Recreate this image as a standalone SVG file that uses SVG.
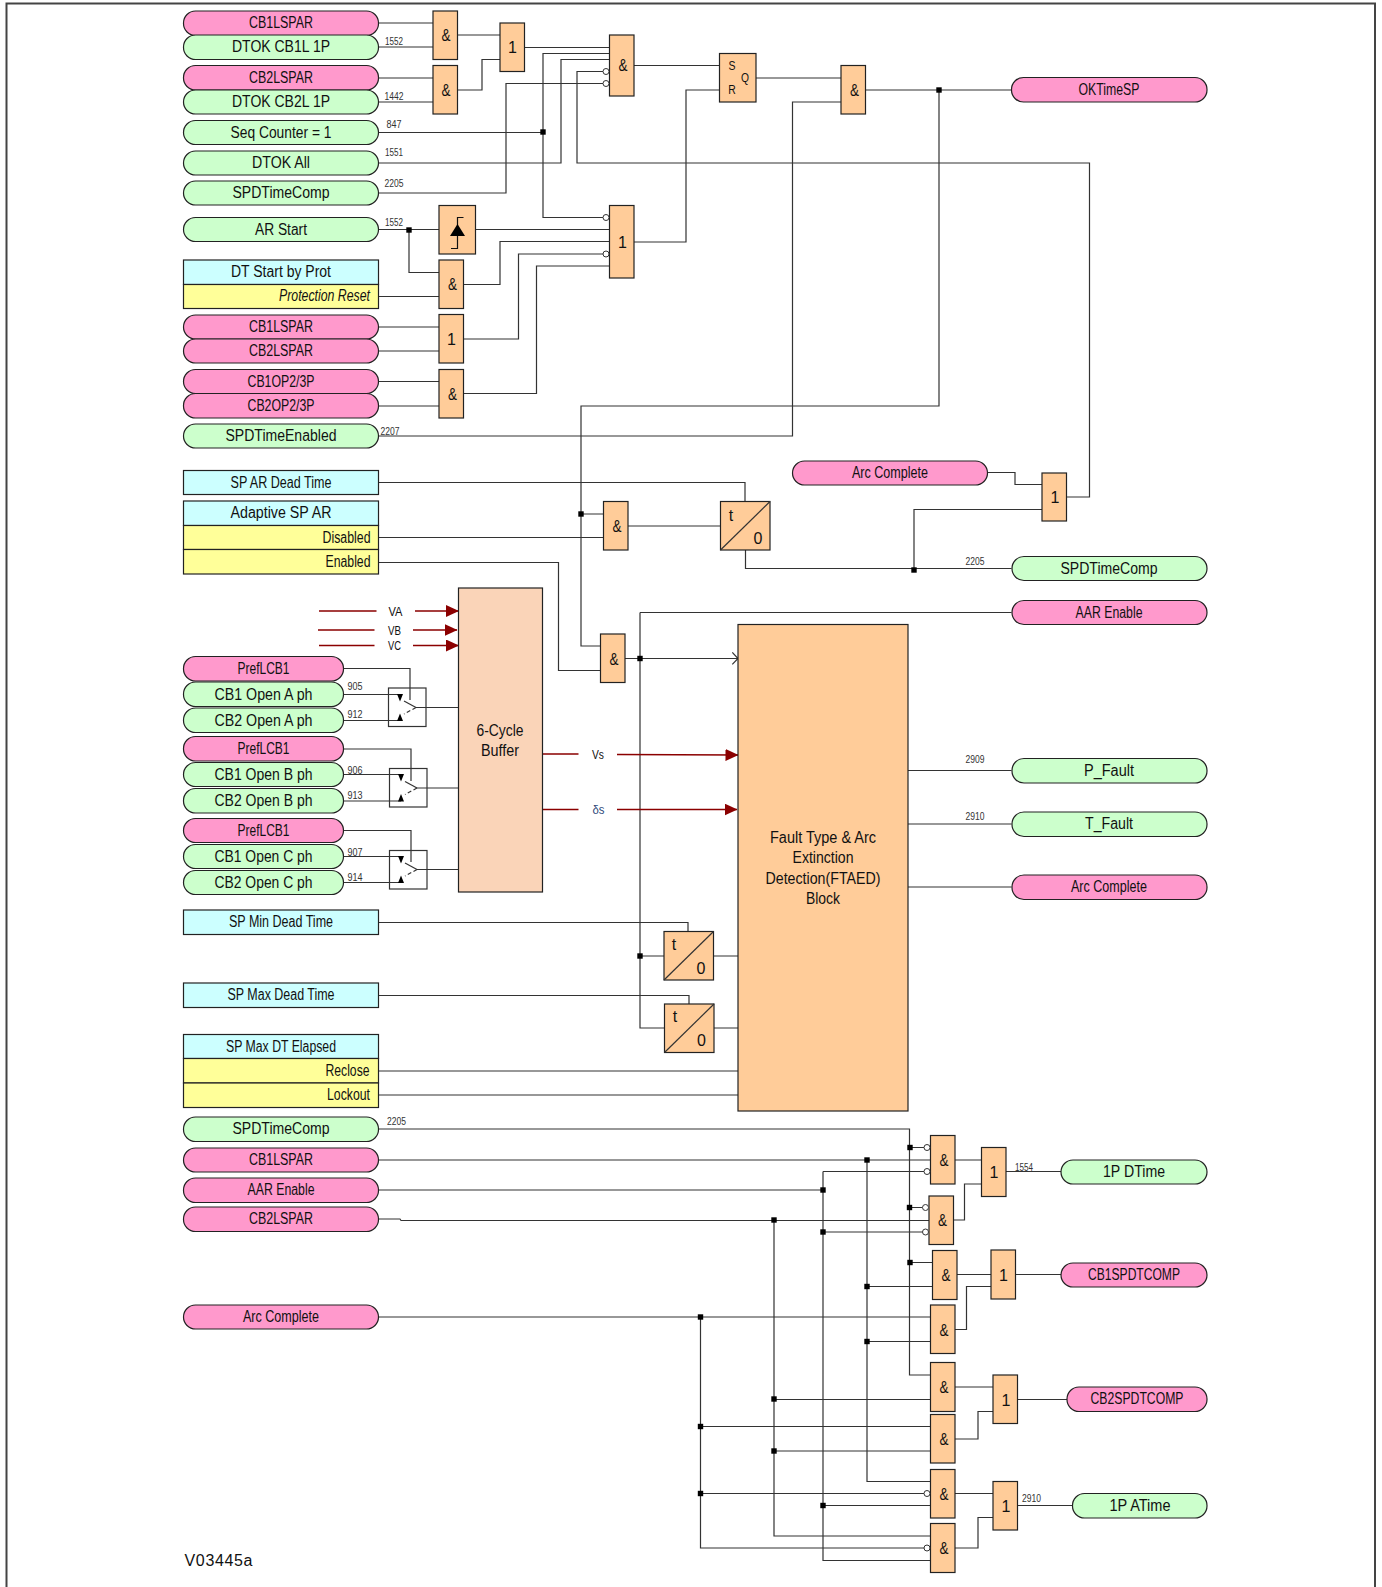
<svg xmlns="http://www.w3.org/2000/svg" width="1382" height="1587" viewBox="0 0 1382 1587">
<style>
text{font-family:"Liberation Sans",Arial,sans-serif;fill:#111;font-size:16px;text-anchor:middle}
.pk,.gr,.cy,.ye,.or,.bf{stroke:#222;stroke-width:1.2}
.pk{fill:#ff99cc}.gr{fill:#ccffcc}.cy{fill:#ccffff}.ye{fill:#ffff99}.or{fill:#ffcc99}.bf{fill:#fad4b8}
.w{stroke:#333;stroke-width:1.2;fill:none}
.sw{fill:none;stroke:#333;stroke-width:1.2}
.b{fill:#fff;stroke:#333;stroke-width:1}
.n{font-size:10px;fill:#333}
.r{text-anchor:end}
.s{font-size:12px}
.red{stroke:#8b0000;stroke-width:1.6;fill:none}
.j{fill:#000}
.pk+text,.gr+text,.cy+text,.ye~text{transform:translateY(-.6px)}
</style>
<defs>
<marker id="ah" markerUnits="userSpaceOnUse" markerWidth="13" markerHeight="12" refX="12.5" refY="6" orient="auto"><path d="M0 0L13 6L0 12Z" fill="#8b0000"/></marker>
<g id="dot"><rect x="-2.7" y="-2.7" width="5.4" height="5.4" class="j"/></g>
</defs>
<rect id="frame" x="6.5" y="3.5" width="1368.5" height="1600" fill="none" stroke="#444" stroke-width="2"/>
<g id="connectors">
<path class="w" d="M378 23H433M378 47H433M378 78H433M378 102H433M457 35H500M457 90H482V59.5H500M524 47.5H609M378 132.5H543M609 53.5H543V217.5H603M378 163H561V59.5H609M603 71.5H577V163H1089.5V497H1067M603 83.5H506V193H378M634 65.5H719.5M634 242H686V90H719.5M756 78H841M866 90H1011M841 102H792.5V436H378M939 90V406H581V646H600.5"/>
<path class="w" d="M378 229.5H439M409 230V272.5H439M476 229.5H609M464 284.5H500V241.5H609M464 339H518.5V254H603M464 393.5H536.5V266H609M378 296.5H439M378 327H439M378 351H439M378 381.5H439M378 406H439"/>
<path class="w" d="M378.5 482.5H745V502M378.5 537.5H603.5M581 514H603.5M628 526H720M745.5 550V568.5H1011.5M914 568.5V509.5H1042M987 472.5H1015V484.5H1042"/>
<path class="w" d="M378.5 562.5H558.5V670.5H600.5M625 658.5H738M732.3 652.3L738 658.5L732.3 664.3M640 612.5H1011.5M640 612.5V1028H664.5M640 956H664M378.5 922.5H688V931.5M378.5 995.5H689V1004M713.5 956H738M714 1028H738M378.5 1071H738M378.5 1095H738M908 770.5H1011.5M908 824H1011.5M908 887H1011.5"/>
<path class="w" d="M343 668.5H410V700M343 694.5H400M343 720.5H400M416 707.5H458.5M343 749H411V781M343 774.5H401M343 801H401M417 788H458.5M343 830.5H411V862M343 856.5H401M343 882.5H401M417 869.5H458.5"/>
<path class="red" d="M319 611H376.5M415 611H458.5" marker-end="url(#ah)"/>
<path class="red" d="M318 630H374.5M413 630H457" marker-end="url(#ah)"/>
<path class="red" d="M319 645.5H374.5M413 645.5H458.5" marker-end="url(#ah)"/>
<path class="red" d="M542.5 754H578.5M617 754.5L738 755" marker-end="url(#ah)"/>
<path class="red" d="M542.5 809.5H578.5M617 809.5H737" marker-end="url(#ah)"/>
<path class="w" d="M378.5 1129H909.5V1375H930.5M909.5 1147.5H924M378.5 1160H931M867 1160V1481.5H930.5M378.5 1190H823M823 1171.5H924M823 1171.5V1560.5H930.5M378.5 1219H400L401 1220.5H929M909.5 1207.5H922.5M823 1232H922.5M910 1262.5H932.5M867 1286.5H932.5M378.5 1317H930.5M867 1341.5H930.5M774 1220.5V1536H930.5M774 1399.5H930.5M700.5 1317V1548H924M700.5 1426.5H930.5M774 1451H930.5M700.5 1493.5H924M823 1505.5H930.5"/>
<path class="w" d="M955 1160H981.5M953 1220H964.5V1184H981.5M1005.5 1171.5H1061M957 1274.5H991M955 1329.5H966.5V1286.5H991M1015 1274.5H1061M955 1387H993M955 1439H978V1411.5H993M1017.5 1399.5H1067M955 1493.5H993M955 1548H978V1517.5H993M1017.5 1505.5H1072.5"/>
<use href="#dot" x="543" y="132"/><use href="#dot" x="409" y="230"/><use href="#dot" x="939" y="90"/><use href="#dot" x="581" y="514"/><use href="#dot" x="914" y="570"/><use href="#dot" x="640" y="658.5"/><use href="#dot" x="640" y="956"/>
<use href="#dot" x="910" y="1147.5"/><use href="#dot" x="867" y="1160"/><use href="#dot" x="823" y="1190"/><use href="#dot" x="774" y="1220"/><use href="#dot" x="909.5" y="1207.5"/><use href="#dot" x="823" y="1232"/><use href="#dot" x="910" y="1262.5"/><use href="#dot" x="867" y="1286.5"/><use href="#dot" x="700.5" y="1317"/><use href="#dot" x="867" y="1341.5"/><use href="#dot" x="774" y="1399"/><use href="#dot" x="700.5" y="1426.5"/><use href="#dot" x="774" y="1451"/><use href="#dot" x="700.5" y="1493.5"/><use href="#dot" x="823" y="1505.5"/>
</g>
<g id="in-cb1lspar-1"><rect class="pk" x="183.5" y="11" width="195" height="24.5" rx="12"/><text x="281" y="29" textLength="64" lengthAdjust="spacingAndGlyphs">CB1LSPAR</text></g>
<g id="in-dtok-cb1"><rect class="gr" x="183.5" y="35" width="195" height="24.5" rx="12"/><text x="281" y="53" textLength="98" lengthAdjust="spacingAndGlyphs">DTOK CB1L 1P</text><text class="n" x="394" y="45" textLength="18" lengthAdjust="spacingAndGlyphs">1552</text></g>
<g id="in-cb2lspar-1"><rect class="pk" x="183.5" y="65.5" width="195" height="24.5" rx="12"/><text x="281" y="83.5" textLength="64" lengthAdjust="spacingAndGlyphs">CB2LSPAR</text></g>
<g id="in-dtok-cb2"><rect class="gr" x="183.5" y="90" width="195" height="24" rx="12"/><text x="281" y="108" textLength="98" lengthAdjust="spacingAndGlyphs">DTOK CB2L 1P</text><text class="n" x="394" y="100" textLength="19" lengthAdjust="spacingAndGlyphs">1442</text></g>
<g id="in-seq"><rect class="gr" x="183.5" y="120.5" width="195" height="24" rx="12"/><text x="281" y="138.5" textLength="101" lengthAdjust="spacingAndGlyphs">Seq Counter = 1</text><text class="n" x="394" y="128" textLength="15" lengthAdjust="spacingAndGlyphs">847</text></g>
<g id="in-dtok-all"><rect class="gr" x="183.5" y="151" width="195" height="24" rx="12"/><text x="281" y="169" textLength="58" lengthAdjust="spacingAndGlyphs">DTOK All</text><text class="n" x="394" y="156" textLength="18" lengthAdjust="spacingAndGlyphs">1551</text></g>
<g id="in-spdtimecomp-1"><rect class="gr" x="183.5" y="181" width="195" height="24" rx="12"/><text x="281" y="199" textLength="97" lengthAdjust="spacingAndGlyphs">SPDTimeComp</text><text class="n" x="394" y="187" textLength="19" lengthAdjust="spacingAndGlyphs">2205</text></g>
<g id="in-ar-start"><rect class="gr" x="183.5" y="217.5" width="195" height="24" rx="12"/><text x="281" y="235.5" textLength="52" lengthAdjust="spacingAndGlyphs">AR Start</text><text class="n" x="394" y="226" textLength="18" lengthAdjust="spacingAndGlyphs">1552</text></g>
<g id="in-dt-start"><rect class="cy" x="183.5" y="260" width="195" height="24.5"/><rect class="ye" x="183.5" y="284.5" width="195" height="24"/><text x="281" y="278" textLength="100" lengthAdjust="spacingAndGlyphs">DT Start by Prot</text><text class="r" x="370" y="302" font-style="italic" textLength="91" lengthAdjust="spacingAndGlyphs">Protection Reset</text></g>
<g id="in-cb1lspar-2"><rect class="pk" x="183.5" y="315" width="195" height="24" rx="12"/><text x="281" y="333" textLength="64" lengthAdjust="spacingAndGlyphs">CB1LSPAR</text></g>
<g id="in-cb2lspar-2"><rect class="pk" x="183.5" y="339" width="195" height="24" rx="12"/><text x="281" y="357" textLength="64" lengthAdjust="spacingAndGlyphs">CB2LSPAR</text></g>
<g id="in-cb1op"><rect class="pk" x="183.5" y="369.5" width="195" height="24" rx="12"/><text x="281" y="387.5" textLength="67" lengthAdjust="spacingAndGlyphs">CB1OP2/3P</text></g>
<g id="in-cb2op"><rect class="pk" x="183.5" y="393.5" width="195" height="24.5" rx="12"/><text x="281" y="412" textLength="67" lengthAdjust="spacingAndGlyphs">CB2OP2/3P</text></g>
<g id="in-spdtimeenabled"><rect class="gr" x="183.5" y="424" width="195" height="24" rx="12"/><text x="281" y="442" textLength="111" lengthAdjust="spacingAndGlyphs">SPDTimeEnabled</text><text class="n" x="390" y="435" textLength="19" lengthAdjust="spacingAndGlyphs">2207</text></g>
<g id="in-sp-ar-dead"><rect class="cy" x="183.5" y="470.5" width="195" height="24"/><text x="281" y="488.5" textLength="101" lengthAdjust="spacingAndGlyphs">SP AR Dead Time</text></g>
<g id="in-adaptive"><rect class="cy" x="183.5" y="501" width="195" height="24.5"/><rect class="ye" x="183.5" y="525.5" width="195" height="24"/><rect class="ye" x="183.5" y="549.5" width="195" height="24.5"/><text x="281" y="519" textLength="101" lengthAdjust="spacingAndGlyphs">Adaptive SP AR</text><text class="r" x="370.5" y="543.5" textLength="48" lengthAdjust="spacingAndGlyphs">Disabled</text><text class="r" x="370.5" y="567.5" textLength="45" lengthAdjust="spacingAndGlyphs">Enabled</text></g>
<g id="va"><text x="395.5" y="615.5" style="font-size:12px" textLength="14" lengthAdjust="spacingAndGlyphs">VA</text></g>
<g id="vb"><text x="394.5" y="634.5" style="font-size:12px" textLength="13" lengthAdjust="spacingAndGlyphs">VB</text></g>
<g id="vc"><text x="394.5" y="650" style="font-size:12px" textLength="13" lengthAdjust="spacingAndGlyphs">VC</text></g>
<g id="vs"><text x="598" y="759" style="font-size:12px" textLength="12" lengthAdjust="spacingAndGlyphs">Vs</text></g>
<g id="ds"><text x="598.5" y="814" style="font-size:12px;fill:#2f4a7a" textLength="12" lengthAdjust="spacingAndGlyphs">δs</text></g>
<g id="pref-a"><rect class="pk" x="183.5" y="656.5" width="160" height="24.5" rx="12"/><text x="263.5" y="674.5" textLength="52" lengthAdjust="spacingAndGlyphs">PrefLCB1</text></g>
<g id="cb1-a"><rect class="gr" x="183.5" y="682" width="160" height="24.5" rx="12"/><text x="263.5" y="700.5" textLength="98" lengthAdjust="spacingAndGlyphs">CB1 Open A ph</text><text class="n" x="355" y="690" textLength="15" lengthAdjust="spacingAndGlyphs">905</text></g>
<g id="cb2-a"><rect class="gr" x="183.5" y="708" width="160" height="24.5" rx="12"/><text x="263.5" y="726.5" textLength="98" lengthAdjust="spacingAndGlyphs">CB2 Open A ph</text><text class="n" x="355" y="718" textLength="15" lengthAdjust="spacingAndGlyphs">912</text></g>
<g id="pref-b"><rect class="pk" x="183.5" y="736.5" width="160" height="24.5" rx="12"/><text x="263.5" y="755" textLength="52" lengthAdjust="spacingAndGlyphs">PrefLCB1</text></g>
<g id="cb1-b"><rect class="gr" x="183.5" y="762.5" width="160" height="24" rx="12"/><text x="263.5" y="780.5" textLength="98" lengthAdjust="spacingAndGlyphs">CB1 Open B ph</text><text class="n" x="355" y="774" textLength="15" lengthAdjust="spacingAndGlyphs">906</text></g>
<g id="cb2-b"><rect class="gr" x="183.5" y="788.5" width="160" height="24.5" rx="12"/><text x="263.5" y="807" textLength="98" lengthAdjust="spacingAndGlyphs">CB2 Open B ph</text><text class="n" x="355" y="799" textLength="15" lengthAdjust="spacingAndGlyphs">913</text></g>
<g id="pref-c"><rect class="pk" x="183.5" y="818.5" width="160" height="24" rx="12"/><text x="263.5" y="836.5" textLength="52" lengthAdjust="spacingAndGlyphs">PrefLCB1</text></g>
<g id="cb1-c"><rect class="gr" x="183.5" y="844.5" width="160" height="24" rx="12"/><text x="263.5" y="862.5" textLength="98" lengthAdjust="spacingAndGlyphs">CB1 Open C ph</text><text class="n" x="355" y="856" textLength="15" lengthAdjust="spacingAndGlyphs">907</text></g>
<g id="cb2-c"><rect class="gr" x="183.5" y="870.5" width="160" height="24" rx="12"/><text x="263.5" y="888.5" textLength="98" lengthAdjust="spacingAndGlyphs">CB2 Open C ph</text><text class="n" x="355" y="881" textLength="15" lengthAdjust="spacingAndGlyphs">914</text></g>
<g id="in-sp-min"><rect class="cy" x="183.5" y="910" width="195" height="24.5"/><text x="281" y="928" textLength="104" lengthAdjust="spacingAndGlyphs">SP Min Dead Time</text></g>
<g id="in-sp-max"><rect class="cy" x="183.5" y="983" width="195" height="24.5"/><text x="281" y="1001" textLength="107" lengthAdjust="spacingAndGlyphs">SP Max Dead Time</text></g>
<g id="in-sp-max-dt"><rect class="cy" x="183.5" y="1034.5" width="195" height="24"/><rect class="ye" x="183.5" y="1058.5" width="195" height="24.5"/><rect class="ye" x="183.5" y="1083" width="195" height="24.5"/><text x="281" y="1052.5" textLength="110" lengthAdjust="spacingAndGlyphs">SP Max DT Elapsed</text><text class="r" x="369.5" y="1076.5" textLength="44" lengthAdjust="spacingAndGlyphs">Reclose</text><text class="r" x="370" y="1101" textLength="43" lengthAdjust="spacingAndGlyphs">Lockout</text></g>
<g id="in-spdtimecomp-2"><rect class="gr" x="183.5" y="1117" width="195" height="24.5" rx="12"/><text x="281" y="1135" textLength="97" lengthAdjust="spacingAndGlyphs">SPDTimeComp</text><text class="n" x="396.5" y="1125" textLength="19" lengthAdjust="spacingAndGlyphs">2205</text></g>
<g id="in-cb1lspar-3"><rect class="pk" x="183.5" y="1148" width="195" height="24" rx="12"/><text x="281" y="1166" textLength="64" lengthAdjust="spacingAndGlyphs">CB1LSPAR</text></g>
<g id="in-aar-enable"><rect class="pk" x="183.5" y="1178" width="195" height="24.5" rx="12"/><text x="281" y="1196" textLength="67" lengthAdjust="spacingAndGlyphs">AAR Enable</text></g>
<g id="in-cb2lspar-3"><rect class="pk" x="183.5" y="1207" width="195" height="24.5" rx="12"/><text x="281" y="1225" textLength="64" lengthAdjust="spacingAndGlyphs">CB2LSPAR</text></g>
<g id="in-arc-complete"><rect class="pk" x="183.5" y="1305" width="195" height="24" rx="12"/><text x="281" y="1323" textLength="76" lengthAdjust="spacingAndGlyphs">Arc Complete</text></g>
<g id="and1"><rect class="or" x="433" y="11" width="24.5" height="48.5"/><text x="446" y="41" textLength="9" lengthAdjust="spacingAndGlyphs">&amp;</text></g>
<g id="and2"><rect class="or" x="433" y="65.5" width="24.5" height="48.5"/><text x="446" y="96" textLength="9" lengthAdjust="spacingAndGlyphs">&amp;</text></g>
<g id="or1"><rect class="or" x="500" y="23" width="24.5" height="48.5"/><text x="512.5" y="53">1</text></g>
<g id="and3"><rect class="or" x="609.5" y="35" width="24.5" height="61"/><text x="623" y="71" textLength="9" lengthAdjust="spacingAndGlyphs">&amp;</text><circle class="b" cx="606" cy="71.5" r="3"/><circle class="b" cx="606" cy="83.5" r="3"/></g>
<g id="sr"><rect class="or" x="719.5" y="53.5" width="36.5" height="48.5"/><text class="s" x="732" y="70" textLength="7" lengthAdjust="spacingAndGlyphs">S</text><text class="s" x="745" y="82" textLength="8" lengthAdjust="spacingAndGlyphs">Q</text><text class="s" x="732" y="94" textLength="7.5" lengthAdjust="spacingAndGlyphs">R</text></g>
<g id="and4"><rect class="or" x="841" y="65.5" width="24.5" height="48.5"/><text x="854.5" y="96" textLength="9" lengthAdjust="spacingAndGlyphs">&amp;</text></g>
<g id="out-oktimesp"><rect class="pk" x="1011.5" y="77.5" width="195.5" height="24.5" rx="12"/><text x="1109" y="96" textLength="61" lengthAdjust="spacingAndGlyphs">OKTimeSP</text></g>
<g id="edge"><rect class="or" x="439" y="205.5" width="36.5" height="48.5"/><path d="M451 248.5H457.5V217.5H463.5" fill="none" stroke="#111" stroke-width="1.2"/><path d="M457.5 224L465 236H450Z" fill="#000"/></g>
<g id="and5"><rect class="or" x="439" y="260" width="24.5" height="48.5"/><text x="452.5" y="290" textLength="9" lengthAdjust="spacingAndGlyphs">&amp;</text></g>
<g id="or2"><rect class="or" x="439" y="314.5" width="24.5" height="48.5"/><text x="451.5" y="345">1</text></g>
<g id="and6"><rect class="or" x="439" y="369.5" width="24.5" height="48.5"/><text x="452.5" y="400" textLength="9" lengthAdjust="spacingAndGlyphs">&amp;</text></g>
<g id="or3"><rect class="or" x="609.5" y="205.5" width="24.5" height="72.5"/><text x="622.5" y="248">1</text><circle class="b" cx="606" cy="217.5" r="3"/><circle class="b" cx="606" cy="254" r="3"/></g>
<g id="out-arc-top"><rect class="pk" x="792.5" y="461" width="195" height="24" rx="12"/><text x="890" y="479" textLength="76" lengthAdjust="spacingAndGlyphs">Arc Complete</text></g>
<g id="or4"><rect class="or" x="1042" y="473" width="24.5" height="48"/><text x="1055" y="503">1</text></g>
<g id="and7"><rect class="or" x="603.5" y="501.5" width="24.5" height="48.5"/><text x="617" y="532" textLength="9" lengthAdjust="spacingAndGlyphs">&amp;</text></g>
<g id="timer1"><rect class="or" x="720.5" y="501.5" width="49.5" height="48.5"/><path class="sw" d="M720.5 550L770 501.5"/><text x="731" y="521">t</text><text x="758" y="544">0</text></g>
<g id="out-spdtimecomp"><rect class="gr" x="1012" y="556.5" width="195" height="24" rx="12"/><text x="1109" y="574.5" textLength="97" lengthAdjust="spacingAndGlyphs">SPDTimeComp</text><text class="n" x="975" y="565" textLength="19" lengthAdjust="spacingAndGlyphs">2205</text></g>
<g id="out-aar-enable"><rect class="pk" x="1012" y="600.5" width="195" height="24" rx="12"/><text x="1109" y="618.5" textLength="67" lengthAdjust="spacingAndGlyphs">AAR Enable</text></g>
<g id="buffer"><rect class="bf" x="458.5" y="588" width="84" height="304"/><text x="500" y="736" textLength="47" lengthAdjust="spacingAndGlyphs">6-Cycle</text><text x="500" y="756" textLength="38" lengthAdjust="spacingAndGlyphs">Buffer</text></g>
<g id="and8"><rect class="or" x="600.5" y="634" width="24.5" height="48.5"/><text x="614" y="664.5" textLength="9" lengthAdjust="spacingAndGlyphs">&amp;</text></g>
<g id="switch-a"><rect class="sw" x="388.5" y="688" width="37.5" height="38.5"/><path d="M397 694H403L400 701.5Z M397 721H403L400 713.5Z" fill="#000"/><path class="sw" d="M404 701L416 707.5"/><path class="sw" d="M416 707.5L404 714" stroke-dasharray="4 2.5"/></g>
<g id="switch-b"><rect class="sw" x="389.5" y="768.5" width="37.5" height="38.5"/><path d="M398 774H404L401 781.5Z M398 801.5H404L401 794Z" fill="#000"/><path class="sw" d="M405 781.5L417 788"/><path class="sw" d="M417 788L405 794.5" stroke-dasharray="4 2.5"/></g>
<g id="switch-c"><rect class="sw" x="389.5" y="850.5" width="37.5" height="38.5"/><path d="M398 856H404L401 863.5Z M398 883H404L401 875.5Z" fill="#000"/><path class="sw" d="M405 863L417 869.5"/><path class="sw" d="M417 869.5L405 876" stroke-dasharray="4 2.5"/></g>
<g id="ftaed"><rect class="or" x="738" y="624.5" width="170" height="486.5"/><text x="823" y="843" textLength="106" lengthAdjust="spacingAndGlyphs">Fault Type &amp; Arc</text><text x="823" y="863" textLength="61" lengthAdjust="spacingAndGlyphs">Extinction</text><text x="823" y="884" textLength="115" lengthAdjust="spacingAndGlyphs">Detection(FTAED)</text><text x="823" y="904" textLength="34" lengthAdjust="spacingAndGlyphs">Block</text></g>
<g id="out-p-fault"><rect class="gr" x="1012" y="758.5" width="195" height="24.5" rx="12"/><text x="1109" y="777" textLength="50" lengthAdjust="spacingAndGlyphs">P_Fault</text><text class="n" x="975" y="763" textLength="19" lengthAdjust="spacingAndGlyphs">2909</text></g>
<g id="out-t-fault"><rect class="gr" x="1012" y="812" width="195" height="24.5" rx="12"/><text x="1109" y="830" textLength="48" lengthAdjust="spacingAndGlyphs">T_Fault</text><text class="n" x="975" y="820" textLength="19" lengthAdjust="spacingAndGlyphs">2910</text></g>
<g id="out-arc-complete"><rect class="pk" x="1012" y="875" width="195" height="24.5" rx="12"/><text x="1109" y="893" textLength="76" lengthAdjust="spacingAndGlyphs">Arc Complete</text></g>
<g id="timer2"><rect class="or" x="664" y="931.5" width="49.5" height="48.5"/><path class="sw" d="M664 980L713.5 931.5"/><text x="674" y="950">t</text><text x="701" y="974">0</text></g>
<g id="timer3"><rect class="or" x="664.5" y="1004" width="49.5" height="48.5"/><path class="sw" d="M664.5 1052.5L714 1004"/><text x="675" y="1022">t</text><text x="701.5" y="1046">0</text></g>
<g id="g1"><rect class="or" x="930.5" y="1135.5" width="24.5" height="48.5"/><text x="944" y="1166" textLength="9" lengthAdjust="spacingAndGlyphs">&amp;</text><circle class="b" cx="927" cy="1147.5" r="3"/><circle class="b" cx="927" cy="1171.5" r="3"/></g>
<g id="g2"><rect class="or" x="929" y="1196" width="24.5" height="48.5"/><text x="942.5" y="1226" textLength="9" lengthAdjust="spacingAndGlyphs">&amp;</text><circle class="b" cx="925.5" cy="1207.5" r="3"/><circle class="b" cx="925.5" cy="1232" r="3"/></g>
<g id="o1"><rect class="or" x="981.5" y="1147.5" width="24.5" height="49"/><text x="994" y="1178">1</text></g>
<g id="out-1p-dtime"><rect class="gr" x="1061" y="1160" width="146" height="24" rx="12"/><text x="1134" y="1178" textLength="62" lengthAdjust="spacingAndGlyphs">1P DTime</text><text class="n" x="1024" y="1170.5" textLength="18" lengthAdjust="spacingAndGlyphs">1554</text></g>
<g id="g3"><rect class="or" x="932.5" y="1250.5" width="24.5" height="49"/><text x="946" y="1281" textLength="9" lengthAdjust="spacingAndGlyphs">&amp;</text></g>
<g id="g4"><rect class="or" x="930.5" y="1305" width="24.5" height="48.5"/><text x="944" y="1335.5" textLength="9" lengthAdjust="spacingAndGlyphs">&amp;</text></g>
<g id="o2"><rect class="or" x="991" y="1250" width="24.5" height="49"/><text x="1003.5" y="1281">1</text></g>
<g id="out-cb1spdtcomp"><rect class="pk" x="1061" y="1263" width="146" height="24" rx="12"/><text x="1134" y="1281" textLength="92" lengthAdjust="spacingAndGlyphs">CB1SPDTCOMP</text></g>
<g id="g5"><rect class="or" x="930.5" y="1362.5" width="24.5" height="49"/><text x="944" y="1393" textLength="9" lengthAdjust="spacingAndGlyphs">&amp;</text></g>
<g id="g6"><rect class="or" x="930.5" y="1414.5" width="24.5" height="48.5"/><text x="944" y="1445" textLength="9" lengthAdjust="spacingAndGlyphs">&amp;</text></g>
<g id="o3"><rect class="or" x="993" y="1375" width="24.5" height="48.5"/><text x="1006" y="1405.5">1</text></g>
<g id="out-cb2spdtcomp"><rect class="pk" x="1067" y="1387" width="140" height="24.5" rx="12"/><text x="1137" y="1405" textLength="93" lengthAdjust="spacingAndGlyphs">CB2SPDTCOMP</text></g>
<g id="g7"><rect class="or" x="930.5" y="1469.5" width="24.5" height="48.5"/><text x="944" y="1499.5" textLength="9" lengthAdjust="spacingAndGlyphs">&amp;</text><circle class="b" cx="927" cy="1493.5" r="3"/></g>
<g id="g8"><rect class="or" x="930.5" y="1523.5" width="24.5" height="49"/><text x="944" y="1554" textLength="9" lengthAdjust="spacingAndGlyphs">&amp;</text><circle class="b" cx="927" cy="1548" r="3"/></g>
<g id="o4"><rect class="or" x="993" y="1481.5" width="24.5" height="48.5"/><text x="1006" y="1511.5">1</text></g>
<g id="out-1p-atime"><rect class="gr" x="1072.5" y="1493.5" width="134.5" height="24.5" rx="12"/><text x="1140" y="1511.5" textLength="61" lengthAdjust="spacingAndGlyphs">1P ATime</text><text class="n" x="1031.5" y="1502" textLength="19" lengthAdjust="spacingAndGlyphs">2910</text></g>
<text id="ref-code" x="218.5" y="1565.5" textLength="68" lengthAdjust="spacing">V03445a</text>
</svg>
